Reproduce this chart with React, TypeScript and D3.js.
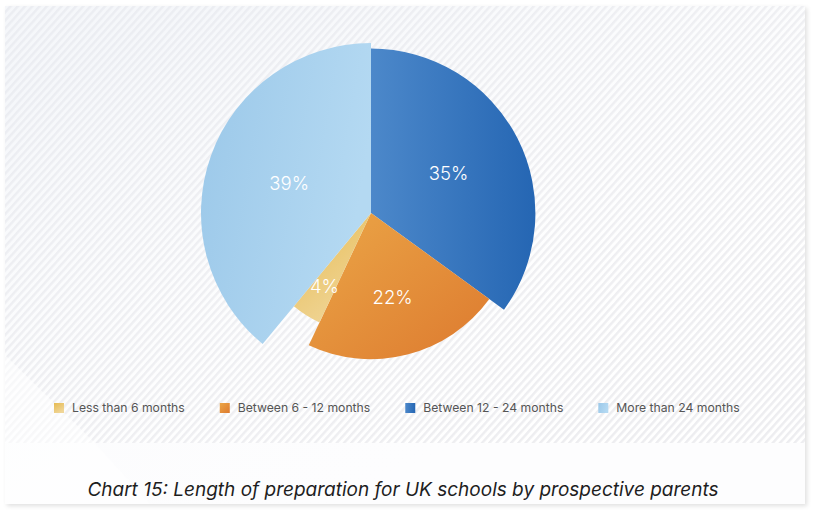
import React, { useEffect, useRef } from 'react';
import * as d3 from 'd3';

const categories = ['Less than 6 months', 'Between 6 - 12 months', 'Between 12 - 24 months', 'More than 24 months'];
const values = [4, 22, 35, 39];
const valueLabels = ['4%', '22%', '35%', '39%'];
const drawOrder = [2, 1, 0, 3]; // clockwise from 12 o'clock
const title = 'Chart 15: Length of preparation for UK schools by prospective parents';

const gradients = [
  { id: 'g0', from: '#e6bb52', to: '#f0d699', x2: '0.6', y2: '1' },
  { id: 'g1', from: '#eba647', to: '#dd7a2f', x2: '1', y2: '1' },
  { id: 'g2', from: '#4c88ca', to: '#2566b3', x2: '1', y2: '0' },
  { id: 'g3', from: '#9bc8e9', to: '#b4d9f2', x2: '1', y2: '0.3' },
];

export default function App() {
  const ref = useRef<SVGSVGElement>(null);
  useEffect(() => {
    const svg = d3.select(ref.current);
    svg.selectAll('*').remove();
    const W = 814, H = 513;
    const defs = svg.append('defs');
    const pat = defs.append('pattern').attr('id', 'stripes').attr('patternUnits', 'userSpaceOnUse')
      .attr('width', 5.4).attr('height', 10).attr('patternTransform', 'rotate(42)');
    pat.append('rect').attr('width', 5.4).attr('height', 10).attr('fill', '#ffffff');
    pat.append('rect').attr('width', 2.4).attr('height', 10).attr('fill', '#ededf0');

    const bgGrad = defs.append('linearGradient').attr('id', 'bgTint').attr('x1', '0').attr('y1', '0.2').attr('x2', '0.6').attr('y2', '1');
    bgGrad.append('stop').attr('offset', '0').attr('stop-color', '#e9edf4').attr('stop-opacity', 0.45);
    bgGrad.append('stop').attr('offset', '1').attr('stop-color', '#ffffff').attr('stop-opacity', 0);

    gradients.forEach(g => {
      const lg = defs.append('linearGradient').attr('id', g.id).attr('x1', '0').attr('y1', '0').attr('x2', g.x2).attr('y2', g.y2);
      lg.append('stop').attr('offset', '0').attr('stop-color', g.from);
      lg.append('stop').attr('offset', '1').attr('stop-color', g.to);
    });
    const shadow = defs.append('filter').attr('id', 'shadow').attr('x', '-5%').attr('y', '-5%').attr('width', '110%').attr('height', '110%');
    shadow.append('feDropShadow').attr('dx', 2).attr('dy', 2).attr('stdDeviation', 2).attr('flood-color', '#000').attr('flood-opacity', 0.12);

    svg.append('rect').attr('width', W).attr('height', H).attr('fill', '#ffffff');
    // card
    svg.append('rect').attr('x', 5).attr('y', 6).attr('width', 800).attr('height', 498).attr('fill', '#fdfdfe').attr('filter', 'url(#shadow)');
    svg.append('rect').attr('x', 5).attr('y', 6).attr('width', 800).attr('height', 437).attr('fill', 'url(#stripes)');
    svg.append('rect').attr('x', 5).attr('y', 6).attr('width', 800).attr('height', 498).attr('fill', 'url(#bgTint)');
    svg.append('path').attr('d', 'M5,355 L95,443 L150,504 L5,504 Z').attr('fill', '#ffffff').attr('opacity', 0.55);

    // pie
    const cx = 371, cy = 213;
    const r = d3.scaleLinear().domain([4, 39]).range([121, 170]);
    const pie = d3.pie<number>().sort(null).value(i => values[i]).startAngle(0).endAngle(2 * Math.PI);
    const arcs = pie(drawOrder);
    const g = svg.append('g').attr('transform', `translate(${cx},${cy})`);
    const labelArc = d3.arc<any>().innerRadius(0).outerRadius(174);
    arcs.forEach(a => {
      const i = a.data;
      const arc = d3.arc<any>().innerRadius(0).outerRadius(r(values[i]));
      g.append('path').attr('d', arc(a) as string).attr('fill', `url(#${gradients[i].id})`);
    });
    arcs.forEach(a => {
      const i = a.data;
      const [lx, ly] = labelArc.centroid(a);
      g.append('text').attr('x', lx).attr('y', ly).attr('text-anchor', 'middle').attr('dy', '0.35em')
        .attr('fill', '#ffffff').attr('font-family', 'Inter, Roboto, sans-serif').attr('font-weight', 300)
        .attr('font-size', 18.5).text(valueLabels[i]);
    });

    // legend
    const legend = svg.append('g').attr('transform', 'translate(54,408)');
    let x = 0;
    categories.forEach((c, i) => {
      const item = legend.append('g').attr('transform', `translate(${x},0)`);
      item.append('rect').attr('x', 0).attr('y', -5).attr('width', 10).attr('height', 10).attr('fill', `url(#${gradients[i].id})`);
      const t = item.append('text').attr('x', 18).attr('y', 0).attr('dy', '0.35em')
        .attr('font-family', 'Inter, Roboto, sans-serif').attr('font-size', 12.2).attr('fill', '#555555').text(c);
      const w = (t.node() as SVGTextElement).getComputedTextLength();
      x += 18 + w + 35;
    });

    svg.append('text').attr('x', 403).attr('y', 489).attr('dy', '0.35em').attr('text-anchor', 'middle')
      .attr('font-family', 'Inter, Roboto, sans-serif').attr('font-style', 'italic').attr('font-size', 19)
      .attr('fill', '#1e1e1e').text(title);
  }, []);
  return (
    <svg ref={ref} width={814} height={513} style={{ position: 'absolute', left: 0, top: 0, display: 'block' }} />
  );
}
